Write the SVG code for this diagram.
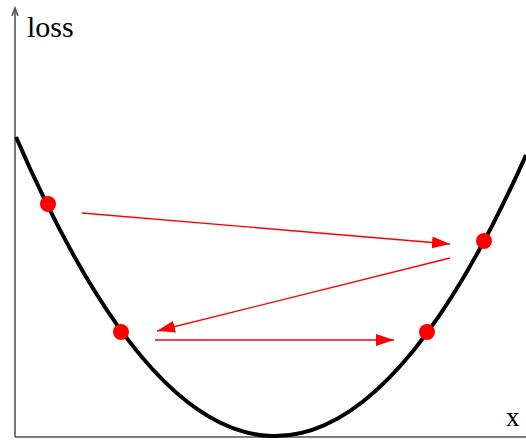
<svg xmlns="http://www.w3.org/2000/svg" width="526" height="440" viewBox="0 0 526 440">
<defs>
<style>
.axis{stroke:#555;stroke-width:1.6;fill:none}
.curve{stroke:#000;stroke-width:4;fill:none}
.arr{stroke:#f00;stroke-width:1.3;fill:none;marker-end:url(#ah)}
.dot{fill:#f00}
.lbl{font-family:"Liberation Serif",serif;fill:#000}
</style>
<marker id="ah" viewBox="0 0 18 12" refX="18" refY="6" markerWidth="18" markerHeight="12" markerUnits="userSpaceOnUse" orient="auto">
<path d="M0,0 L18,6 L0,12 Z" fill="#f00"/>
</marker>
</defs>
<g id="axes">
<path class="axis" d="M15,437 V9"/>
<path class="axis" d="M12,16 L15,8 L18,16"/>
<path class="axis" d="M15,437 H526"/>
</g>
<g id="curve"><path class="curve" d="M16,137 Q271,726 526,155"/></g>
<g id="connectors">
<line class="arr" x1="82" y1="213" x2="450" y2="244"/>
<line class="arr" x1="450" y1="258" x2="157" y2="331"/>
<line class="arr" x1="155" y1="340" x2="394" y2="340"/>
</g>
<g id="p1"><circle class="dot" cx="48" cy="204" r="8"/></g>
<g id="p2"><circle class="dot" cx="484" cy="241" r="8"/></g>
<g id="p3"><circle class="dot" cx="121" cy="332" r="8"/></g>
<g id="p4"><circle class="dot" cx="427" cy="332" r="8"/></g>
<text class="lbl" x="27" y="37" font-size="30">loss</text>
<text class="lbl" x="506" y="426" font-size="27">x</text>
</svg>
